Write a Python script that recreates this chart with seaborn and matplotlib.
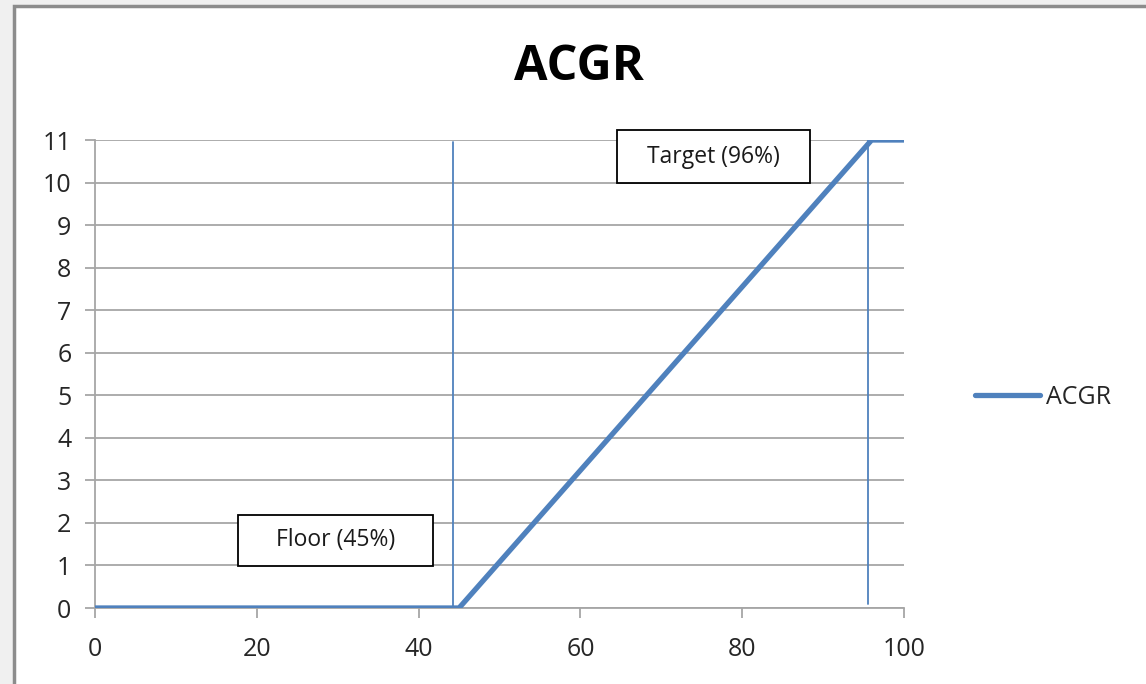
import matplotlib
matplotlib.use("Agg")
import matplotlib.pyplot as plt
import seaborn as sns
import pandas as pd
from matplotlib.patches import Rectangle

# data
score = [0, 45, 96, 100]
acgr = [0, 0, 11, 11]
floor_line_x = 44.2
target_line_x = 95.5
x_ticks = [0, 20, 40, 60, 80, 100]
y_ticks = list(range(0, 12))

df = pd.DataFrame({'score': score, 'ACGR': acgr})

sns.set_theme(style="white")
plt.rcParams['font.family'] = ['Open Sans', 'DejaVu Sans']

blue = '#4f81bd'
grid_gray = '#a6a6a6'

fig = plt.figure(figsize=(11.46, 6.84), dpi=100, facecolor='#f0f0f0')
# the white chart area with its gray frame (screenshot look)
fig.patches.append(Rectangle((14 / 1146, -0.1), 1.2, (684 - 6) / 684 + 0.1,
                             transform=fig.transFigure, facecolor='white',
                             edgecolor='#8c8c8c', linewidth=2.5, zorder=-10))

ax = fig.add_axes([95 / 1146, 1 - 608 / 684, 809 / 1146, 468 / 684])
ax.set_facecolor('none')

sns.lineplot(data=df, x='score', y='ACGR', ax=ax, color=blue, linewidth=3.8,
             label='ACGR', solid_capstyle='butt', zorder=4)

ax.axvline(floor_line_x, ymin=0, ymax=0.995, color=blue, linewidth=1.3, zorder=3)
ax.axvline(target_line_x, ymin=0.008, ymax=1, color=blue, linewidth=1.3, zorder=3)

ax.set_xlim(0, 100)
ax.set_ylim(0, 11)
ax.set_xticks(x_ticks)
ax.set_yticks(y_ticks)
ax.yaxis.grid(True, color=grid_gray, linewidth=1.3)
ax.xaxis.grid(False)
ax.set_axisbelow(True)
for side in ['top', 'right']:
    ax.spines[side].set_visible(False)
for side in ['left', 'bottom']:
    ax.spines[side].set_color(grid_gray)
    ax.spines[side].set_linewidth(1.3)
ax.tick_params(axis='both', which='both', length=7, width=1.3, color=grid_gray,
               labelsize=18, labelcolor='#262626', direction='out')
ax.tick_params(axis='x', pad=14)
ax.tick_params(axis='y', pad=10, left=True)
ax.tick_params(axis='x', bottom=True)
ax.set_xlabel('')
ax.set_ylabel('')

# text boxes
ax.add_patch(Rectangle((17.7, 0.99), 24.1, 1.2, facecolor='white', edgecolor='black',
                       linewidth=1.3, clip_on=False, zorder=5))
ax.text(17.7 + 24.1 / 2, 0.99 + 0.6, 'Floor (45%)', ha='center', va='center',
        fontsize=16.5, color='#1a1a1a', zorder=6)
ax.add_patch(Rectangle((64.5, 9.99), 23.9, 1.24, facecolor='white', edgecolor='black',
                       linewidth=1.3, clip_on=False, zorder=5))
ax.text(64.5 + 23.9 / 2, 9.99 + 0.62, 'Target (96%)', ha='center', va='center',
        fontsize=16.5, color='#1a1a1a', zorder=6)

fig.text(579 / 1146, 1 - 67 / 684, 'ACGR', ha='center', va='center',
         fontsize=35, fontweight='bold', color='black')

leg = ax.legend(loc='center left', bbox_to_anchor=(1.075, 4.95 / 11), frameon=False,
                fontsize=18, handlelength=2.6, handletextpad=0.25, borderaxespad=0)
for line in leg.get_lines():
    line.set_linewidth(3.8)
    line.set_solid_capstyle('round')

fig.savefig('out.png', dpi=100, facecolor=fig.get_facecolor())
